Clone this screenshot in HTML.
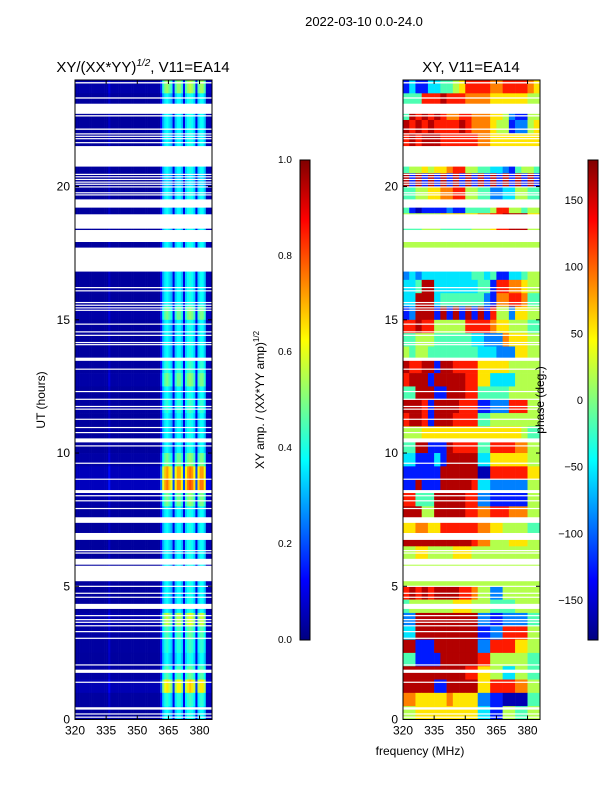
<!DOCTYPE html>
<html><head><meta charset="utf-8"><style>
body{margin:0;background:#fff;width:600px;height:800px;overflow:hidden;font-family:"Liberation Sans",sans-serif}
svg{display:block}
text{font-family:"Liberation Sans",sans-serif}
</style></head><body>
<svg id="fig" width="600" height="800">
<defs>
<linearGradient id="jet" x1="0" y1="1" x2="0" y2="0">
<stop offset="0" stop-color="#000080"/><stop offset="0.125" stop-color="#0000ff"/><stop offset="0.375" stop-color="#00ffff"/><stop offset="0.5" stop-color="#80ff80"/><stop offset="0.625" stop-color="#ffff00"/><stop offset="0.875" stop-color="#ff0000"/><stop offset="1" stop-color="#800000"/>
</linearGradient>
</defs>
<text x="364" y="26" font-size="13" text-anchor="middle">2022-03-10 0.0-24.0</text>
<text x="143" y="72" font-size="15" text-anchor="middle">XY/(XX*YY)<tspan font-size="10" dy="-6" font-style="italic">1/2</tspan><tspan dy="6">, V11=EA14</tspan></text>
<text x="471" y="72" font-size="15" text-anchor="middle">XY, V11=EA14</text>
<g id="ampPanel"></g>
<g id="phPanel"></g>
<g id="gaps"></g>
<g id="axes"></g>
<rect x="300" y="160" width="10" height="480" fill="url(#jet)" stroke="#000"/>
<rect x="588" y="160" width="10" height="480" fill="url(#jet)" stroke="#000"/>
<text transform="translate(264,400) rotate(-90)" font-size="12" text-anchor="middle">XY amp. / (XX*YY amp)<tspan font-size="8" dy="-5">1/2</tspan></text>
<text transform="translate(544,400) rotate(-90)" font-size="12" text-anchor="middle">phase (deg.)</text>
<text x="45" y="400" font-size="12" text-anchor="middle" transform="rotate(-90,45,400)">UT (hours)</text>
<text x="420" y="755" font-size="12" text-anchor="middle">frequency (MHz)</text>
</svg>
<script>
const hourTicks=[0,5,10,15,20];
const freqTicks=[320,335,350,365,380];
const ampTicks=[0.0,0.2,0.4,0.6,0.8,1.0];
const phaseTicks=[-150,-100,-50,0,50,100,150];
// amplitude channel profile, 1 MHz channels 320..385
const ampProfile=[0.03,0.03,0.03,0.03,0.03,0.03,0.03,0.03,0.03,0.03,0.03,0.03,0.03,0.03,0.03,0.03,0.07,0.03,0.03,0.03,0.03,0.03,0.03,0.03,0.03,0.03,0.03,0.03,0.03,0.03,0.03,0.03,0.03,0.03,0.03,0.03,0.03,0.03,0.03,0.03,0.03,0.12,0.3,0.36,0.38,0.34,0.3,0.1,0.32,0.37,0.37,0.32,0.1,0.33,0.38,0.4,0.38,0.33,0.1,0.33,0.38,0.38,0.32,0.05,0.05,0.05];
// row gain per 0.5 h bin, top (23.5-24h) to bottom (0-0.5h)
const ampGain=[1.4,1.0,1.0,1.0,1.0,1.0,1.0,0.9,1.0,1.0,1.0,1.0,1.0,1.0,1.0,1.0,1.0,1.3,1.0,1.0,1.0,1.1,1.3,1.0,1.1,1.0,1.0,1.0,1.3,1.9,2.0,1.3,1.0,1.0,1.0,1.0,1.0,1.0,1.0,1.0,1.5,1.2,1.1,1.0,1.2,1.7,1.1,1.0];
// phase rows, 3 MHz columns 320..386, digit d -> -180+36*d+18 deg
const phaseRows=["1311334456888877888876","4448889888777766666655","4989898778877766521155","9898988889877765512256","8989998888887766666666","5555555555555555555555","4556566788554433214554","9191919191919191919191","4455667788554422335544","4101111211444458855455","5555556666667788999966","4445554444455568899955","5555555555555555555555","5555555555555555555555","2323333333344341133455","3349933333334418877655","3399934444444217788744","1299919191919185526655","8898855555888876655544","4455544444433222766655","5455444444443332226655","9889919988886666655555","8999199999886633335555","4499911999884444455555","9998199998881122288855","8998199988884455555555","5556666666666666666544","4499111988884488887755","3311131999993366666655","1111119999990088888866","1191119999983322222255","8844499999882211111155","9995599999887788877755","6677668888887766555544","9999999999987755566655","5566555566655555555555","5555555555555555555555","5555555555555555555555","8989899998875522555555","4555555566655544445555","2299999999992211222244","3399999999991122888855","9911199999992288886655","4411119999998855555544","9999999999886655335544","9999911999996688887755","7766666766662211000044","5566666666663311554455"];
// flagged (blank) UT intervals [start,end] hours
const gaps=[[23.87,23.92],[23.3,23.35],[22.73,23.11],[22.63,22.68],[22.13,22.18],[21.96,22.0],[21.87,21.91],[21.78,21.82],[21.63,21.67],[20.75,21.52],[20.44,20.48],[20.35,20.39],[20.25,20.29],[20.15,20.19],[20.07,20.11],[19.97,20.01],[19.75,19.79],[19.67,19.71],[19.21,19.52],[18.42,18.96],[17.92,18.37],[16.81,17.71],[16.19,16.23],[16.07,16.11],[15.63,15.67],[15.53,15.57],[15.43,15.47],[15.34,15.38],[14.82,14.86],[14.53,14.57],[14.4,14.44],[14.13,14.17],[14.05,14.09],[13.46,13.58],[13.13,13.17],[12.29,12.33],[12.0,12.04],[11.73,11.77],[11.63,11.67],[11.25,11.29],[10.94,10.98],[10.75,10.79],[10.4,10.55],[10.25,10.29],[9.6,9.64],[9.0,9.04],[8.5,8.61],[8.38,8.42],[8.19,8.23],[7.9,7.94],[7.38,7.59],[6.74,7.0],[6.32,6.36],[6.23,6.27],[5.81,6.03],[5.19,5.77],[4.98,5.02],[4.72,4.76],[4.57,4.61],[4.15,4.34],[3.88,3.92],[3.73,3.77],[3.63,3.67],[3.5,3.54],[3.28,3.32],[3.03,3.07],[2.03,2.07],[1.75,1.87],[1.38,1.42],[0.37,0.46],[0.19,0.23],[0.07,0.11]];

const NS='http://www.w3.org/2000/svg';
const P1={x0:75,x1:212},P2={x0:403,x1:540},Y0=719.5,Y1=80;
const fMin=320,fMax=386;
const fx=(p,f)=>p.x0+(f-fMin)/(fMax-fMin)*(p.x1-p.x0);
const hy=h=>Y0-(h/24)*(Y0-Y1);
function jet(v){v=Math.max(0,Math.min(1,v));
 const c=(x)=>Math.max(0,Math.min(1,1.5-Math.abs(4*v-x)));
 return 'rgb('+Math.round(255*c(3))+','+Math.round(255*c(2))+','+Math.round(255*c(1))+')';}
function mk(tag,attrs,parent){const e=document.createElementNS(NS,tag);for(const k in attrs)e.setAttribute(k,attrs[k]);parent.appendChild(e);return e;}
const ampG=document.getElementById('ampPanel'),phG=document.getElementById('phPanel'),gG=document.getElementById('gaps'),ax=document.getElementById('axes');
const nR=ampGain.length;
for(let r=0;r<nR;r++){
 const hTop=24-r*24/nR,hBot=24-(r+1)*24/nR;
 for(let c=0;c<ampProfile.length;c++){
  const rc=mk('rect',{x:fx(P1,fMin+c),y:hy(hTop),width:fx(P1,fMin+c+1)-fx(P1,fMin+c)+0.3,height:hy(hBot)-hy(hTop)+0.3,fill:jet(ampProfile[c]*ampGain[r])},ampG);
  
  
 }
}
const nP=phaseRows.length;
for(let r=0;r<nP;r++){
 const row=phaseRows[r],hTop=24-r*24/nP,hBot=24-(r+1)*24/nP;
 for(let c=0;c<row.length;c++){
  const d=parseInt(row[c]),ph=-180+36*d+18;
  const rc=mk('rect',{x:fx(P2,fMin+3*c),y:hy(hTop),width:fx(P2,fMin+3*c+3)-fx(P2,fMin+3*c)+0.3,height:hy(hBot)-hy(hTop)+0.3,fill:jet((ph+180)/360)},phG);
  
  
 }
}
gaps.forEach(g=>{[P1,P2].forEach(p=>{
 const rc=mk('rect',{x:p.x0,y:hy(g[1]),width:p.x1-p.x0,height:Math.max(1.2,hy(g[0])-hy(g[1])),fill:'#fff'},gG);
 
 
});});
[P1,P2].forEach((p,i)=>{
 const fr=mk('rect',{x:p.x0,y:Y1,width:p.x1-p.x0,height:Y0-Y1,fill:'none',stroke:'#000','stroke-width':1},ax);
 
 
 hourTicks.forEach(h=>{const y=hy(h);
  mk('line',{x1:p.x0,x2:p.x0+4,y1:y,y2:y,stroke:'#000'},ax);
  mk('line',{x1:p.x1,x2:p.x1-4,y1:y,y2:y,stroke:'#000'},ax);
  const t=mk('text',{x:p.x0-5,y:y+4,'font-size':12,'text-anchor':'end'},ax);t.textContent=h;
  
  
 });
 freqTicks.forEach(f=>{const x=fx(p,f);
  mk('line',{x1:x,x2:x,y1:Y0,y2:Y0-4,stroke:'#000'},ax);
  mk('line',{x1:x,x2:x,y1:Y1,y2:Y1+4,stroke:'#000'},ax);
  const t=mk('text',{x:x,y:Y0+15,'font-size':12,'text-anchor':'middle'},ax);t.textContent=f;
  
  
 });
});
ampTicks.forEach(v=>{const y=640-v*480;
 mk('line',{x1:306,x2:310,y1:y,y2:y,stroke:'#000'},ax);
 const t=mk('text',{x:278,y:y+3,'font-size':10},ax);t.textContent=v.toFixed(1);
 
 
});
phaseTicks.forEach(v=>{const y=640-(v+180)/360*480;
 mk('line',{x1:594,x2:598,y1:y,y2:y,stroke:'#000'},ax);
 const t=mk('text',{x:583,y:y+4,'font-size':11,'text-anchor':'end'},ax);t.textContent=v<0?'\u2212'+(-v):v;
 
 
});
</script>
</body></html>
